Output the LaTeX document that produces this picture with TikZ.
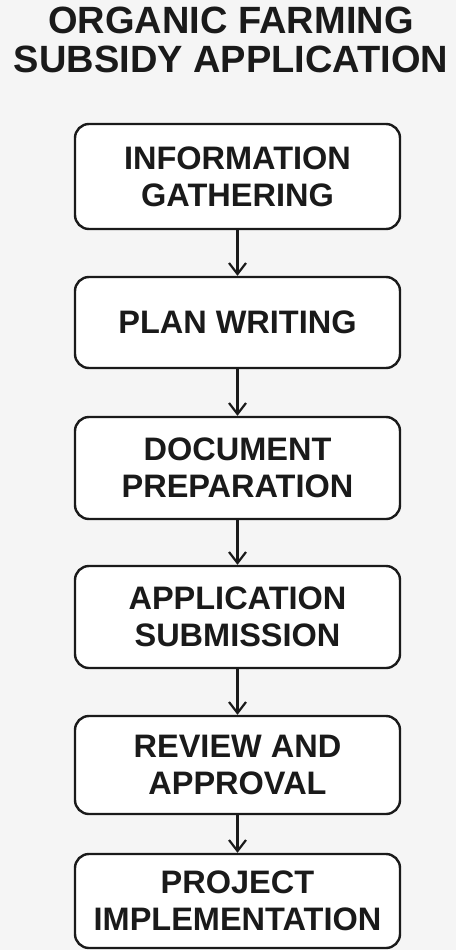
\documentclass[tikz,border=0pt]{standalone}
\usepackage{fontspec}
\setmainfont{Liberation Sans}
\usetikzlibrary{arrows.meta,positioning}
\definecolor{PageGrey}{HTML}{F5F5F5}
\definecolor{InkBlack}{HTML}{1A1A1A}

\begin{document}
\begin{tikzpicture}[x=1pt, y=-1pt,
  titletext/.style={font=\bfseries\fontsize{38}{39}\selectfont, align=center, text=InkBlack},
  stepbox/.style={draw=InkBlack, fill=white, line width=2.4pt, rounded corners=14pt, minimum width=325pt, align=center, font=\bfseries\fontsize{32.5}{37}\selectfont, text=InkBlack},
  flow/.style={-{Straight Barb[length=11pt,width=17pt]}, line width=2.2pt, draw=InkBlack}
]
\useasboundingbox (0,0) rectangle (456,950);
\fill[PageGrey] (0,0) rectangle (456,950);
\node[titletext] (title) at (231,40) {ORGANIC FARMING\\SUBSIDY APPLICATION};
\node[stepbox, minimum height=105pt] (info) at (237.5,176.5) {INFORMATION\\GATHERING};
\node[stepbox, minimum height=91pt] (plan) at (237.5,322.5) {PLAN WRITING};
\node[stepbox, minimum height=102pt] (docs) at (237.5,468) {DOCUMENT\\PREPARATION};
\node[stepbox, minimum height=102pt] (submit) at (237.5,617) {APPLICATION\\SUBMISSION};
\node[stepbox, minimum height=98pt] (review) at (237.5,765) {REVIEW AND\\APPROVAL};
\node[stepbox, minimum height=94pt] (impl) at (237.5,901) {PROJECT\\IMPLEMENTATION};
\draw[flow] (info) -- (plan);
\draw[flow] (plan) -- (docs);
\draw[flow] (docs) -- (submit);
\draw[flow] (submit) -- (review);
\draw[flow] (review) -- (impl);
\end{tikzpicture}
\end{document}
